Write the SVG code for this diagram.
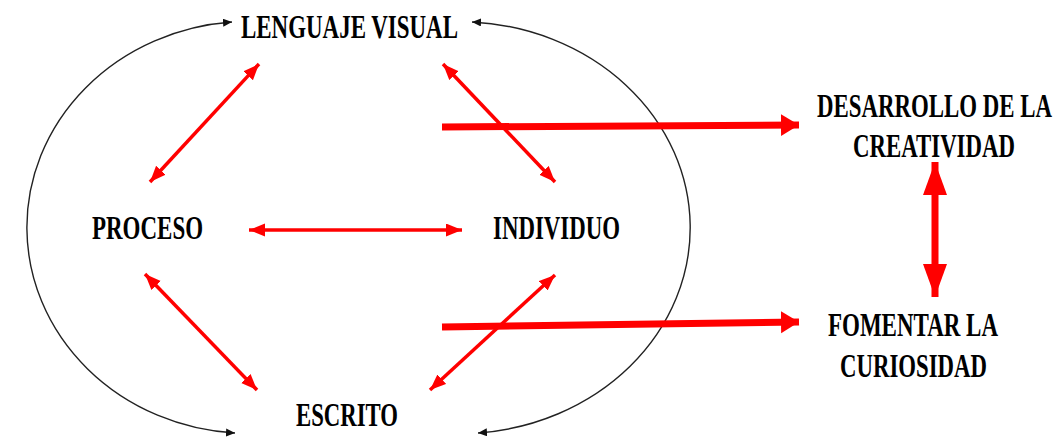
<svg xmlns="http://www.w3.org/2000/svg" width="1062" height="439" viewBox="0 0 1062 439">
<style>
.t{font-family:"Liberation Serif","Times New Roman",serif;font-weight:bold;font-size:33px;fill:#000}
.blk{fill:none;stroke:#222;stroke-width:1.4}
.thin{stroke:#ff0000;stroke-width:3.5;fill:none}
.thick{stroke:#ff0000;stroke-width:7;fill:none}
</style>
<defs>
<marker id="bh" markerUnits="userSpaceOnUse" markerWidth="12" markerHeight="10" refX="9" refY="4" orient="auto-start-reverse" viewBox="0 0 12 10">
<path d="M0,0 L9,4 L0,8 Z" fill="#111"/>
</marker>
<marker id="rh" markerUnits="userSpaceOnUse" markerWidth="17" markerHeight="14" refX="16" refY="6.5" orient="auto-start-reverse" viewBox="0 0 17 14">
<path d="M0,0 L16,6.5 L0,13 Z" fill="#ff0000"/>
</marker>
<marker id="rt" markerUnits="userSpaceOnUse" markerWidth="20" markerHeight="24" refX="18" refY="11" orient="auto-start-reverse" viewBox="0 0 20 24">
<path d="M0,0 L18,11 L0,22 Z" fill="#ff0000"/>
</marker>
<marker id="rv" markerUnits="userSpaceOnUse" markerWidth="36" markerHeight="26" refX="33" refY="12" orient="auto-start-reverse" viewBox="0 0 36 26">
<path d="M0,0 L33,12 L0,24 Z" fill="#ff0000"/>
</marker>
</defs>
<g id="connectors">
<path class="blk" d="M232,22 A222,206 0 0 0 235,433" marker-start="url(#bh)" marker-end="url(#bh)"/>
<path class="blk" d="M472,22 A231,206 0 0 1 478,433" marker-start="url(#bh)" marker-end="url(#bh)"/>
<line class="thin" x1="259" y1="64" x2="150" y2="182" marker-start="url(#rh)" marker-end="url(#rh)"/>
<line class="thin" x1="443" y1="64" x2="555" y2="182" marker-start="url(#rh)" marker-end="url(#rh)"/>
<line class="thin" x1="249" y1="230" x2="462" y2="230" marker-start="url(#rh)" marker-end="url(#rh)"/>
<line class="thin" x1="145" y1="274" x2="257" y2="390" marker-start="url(#rh)" marker-end="url(#rh)"/>
<line class="thin" x1="555" y1="275" x2="430" y2="390" marker-start="url(#rh)" marker-end="url(#rh)"/>
<line class="thick" x1="442" y1="127" x2="799" y2="125" marker-end="url(#rt)"/>
<line class="thick" x1="442" y1="327" x2="799" y2="322" marker-end="url(#rt)"/>
<line class="thick" x1="935" y1="162" x2="935" y2="297" marker-start="url(#rv)" marker-end="url(#rv)"/>
</g>
<g id="lenguaje"><text class="t" transform="translate(241,38) scale(0.7,1)" textLength="310" lengthAdjust="spacingAndGlyphs">LENGUAJE VISUAL</text></g>
<g id="proceso"><text class="t" transform="translate(92,239) scale(0.7,1)" textLength="158.6" lengthAdjust="spacingAndGlyphs">PROCESO</text></g>
<g id="individuo"><text class="t" transform="translate(493,239) scale(0.7,1)" textLength="181.4" lengthAdjust="spacingAndGlyphs">INDIVIDUO</text></g>
<g id="escrito"><text class="t" transform="translate(296,426) scale(0.7,1)" textLength="145.7" lengthAdjust="spacingAndGlyphs">ESCRITO</text></g>
<g id="creatividad">
<text class="t" transform="translate(817,117) scale(0.7,1)" textLength="335.7" lengthAdjust="spacingAndGlyphs">DESARROLLO DE LA</text>
<text class="t" transform="translate(853,157) scale(0.7,1)" textLength="231.4" lengthAdjust="spacingAndGlyphs">CREATIVIDAD</text>
</g>
<g id="curiosidad">
<text class="t" transform="translate(828,336) scale(0.7,1)" textLength="242.9" lengthAdjust="spacingAndGlyphs">FOMENTAR LA</text>
<text class="t" transform="translate(840,377) scale(0.7,1)" textLength="210" lengthAdjust="spacingAndGlyphs">CURIOSIDAD</text>
</g>
</svg>
